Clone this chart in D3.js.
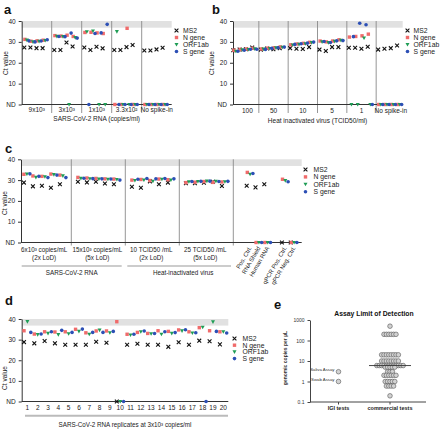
<!DOCTYPE html>
<html><head><meta charset="utf-8">
<script src="https://cdn.jsdelivr.net/npm/d3@7"></script>
<style>body{margin:0;background:#fff}svg{font-family:"Liberation Sans",Arial,sans-serif}</style>
</head><body><svg id="c" width="440" height="429"></svg>
<script>
// ---------------- DATA ----------------
const ND = null; // not detected
const seriesNames = ["MS2", "N gene", "ORF1ab", "S gene"];
const yTicks = [0, 10, 20, 30, 40];

// Panel a: SARS-CoV-2 RNA (copies/ml), 4 replicates per group
const aGroups = ["9x10³", "3x10³", "1x10³", "3.3x10²", "No spike-in"];
const aMS2 = [[27.3,27.3,27.0,27.0],[26.1,26.1,29.7,27.8],[27.3,26.1,27.7,26.9],[26.1,26.1,27.5,28.5],[25.9,25.9,26.4,27.2]];
const aN   = [[31.2,30.3,30.5,30.8],[33.0,32.8,33.2,32.6],[34.5,34.6,34.3,34.0],[ND,ND,36.5,ND],[ND,ND,ND,ND]];
const aORF = [[30.8,30.0,30.2,30.6],[32.6,32.5,ND,32.0],[34.8,35.2,ND,ND],[34.9,ND,ND,ND],[ND,ND,ND,ND]];
const aS   = [[30.5,30.0,30.4,31.0],[32.6,32.5,34.2,31.8],[ND,34.0,34.3,38.4],[ND,ND,ND,ND],[ND,ND,ND,ND]];

// Panel b: heat inactivated virus (TCID50/ml)
const bGroups = ["100", "50", "10", "5", "1", "No spike-in"];
const bMS2 = [[26.0,26.3,26.5,27.3],[26.3,26.8,26.5,27.0],[27.0,26.7,26.6,27.5],[26.3,25.6,27.5,27.5],[27.2,27.2,26.7,27.7],[26.3,26.7,27.0,28.3]];
const bN   = [[26.0,26.4,26.6,26.9],[26.6,27.0,27.2,27.6],[28.6,29.0,29.3,29.8],[30.4,30.0,30.4,31.0],[32.3,32.6,32.9,33.7],[ND,ND,ND,ND]];
const bORF = [[25.5,26.2,26.3,26.6],[26.5,26.8,27.1,27.4],[28.5,28.8,29.1,29.6],[30.0,29.6,30.2,30.7],[ND,ND,31.8,ND],[ND,ND,ND,ND]];
const bS   = [[25.5,26.0,26.5,26.5],[26.4,26.9,27.2,27.5],[28.8,29.1,29.4,29.9],[30.2,29.7,30.5,30.6],[32.5,38.9,38.2,ND],[ND,ND,ND,ND]];

// Panel c: 5 replicates per condition + controls
const cGroups = [["6x10³ copies/mL","(2x LoD)"],["15x10³ copies/mL","(5x LoD)"],["10 TCID50 /mL","(2x LoD)"],["25 TCID50 /mL","(5x LoD)"]];
const cSuperGroups = ["SARS-CoV-2 RNA", "Heat-inactivated virus"];
const cMS2 = [[28.8,27.0,27.3,26.3,28.0],[29.2,28.9,29.2,28.4,28.0],[26.8,26.3,29.4,28.0,28.8],[28.5,28.5,28.7,29.2,27.2]];
const cN   = [[32.8,32.0,31.8,32.9,32.4],[31.3,31.0,30.8,30.6,30.5],[30.0,30.3,29.8,30.5,30.2],[28.8,29.0,29.3,28.9,29.1]];
const cORF = [[32.9,31.3,31.6,32.6,32.0],[30.8,30.6,30.5,30.4,30.3],[29.8,30.0,29.4,30.4,30.0],[29.2,29.3,29.5,29.4,29.2]];
const cS   = [[33.0,31.8,31.2,32.4,31.2],[30.9,30.7,30.6,30.5,30.0],[30.4,30.8,30.6,30.8,30.6],[29.3,29.4,29.5,29.3,29.4]];
const ctrlNames = ["Pos. Ctrl.", "RNA Shield", "Human RNA", "qPCR Pos. Ctrl.", "qPCR Neg. Ctrl."];
const ctrlSlots = [0, 1, 2, 4, 5];
const ctrlMS2 = [27.3, 26.5, 28.0, ND, ND];
const ctrlN   = [33.7, ND, ND, 30.4, ND];
const ctrlORF = [32.8, ND, ND, 29.7, ND];
const ctrlS   = [33.2, ND, ND, 29.2, ND];

// Panel d: 20 replicates at 3x10^3 copies/ml
const dReps = d3.range(1, 21);
const dMS2 = [28.8,28.2,29.3,28.2,27.5,27.5,27.5,29.0,28.5,ND,27.5,28.0,27.5,27.5,26.5,28.7,27.5,29.5,29.2,27.7];
const dN   = [34.3,32.7,33.8,33.7,33.8,35.0,33.3,34.2,34.2,38.7,32.6,33.5,33.0,34.3,34.0,34.7,33.8,35.8,34.3,33.8];
const dORF = [38.7,32.4,33.0,32.4,32.8,34.0,32.6,34.6,33.3,ND,32.2,33.8,32.8,32.6,33.0,34.2,33.2,36.0,38.6,33.8];
const dS   = [33.5,32.7,33.8,34.5,33.5,35.1,33.5,33.5,34.0,ND,32.6,34.2,33.0,33.8,33.4,34.8,33.3,ND,34.0,33.2];

// Panel e: assay limit of detection (genomic copies per µL)
const eCategories = ["IGI tests", "commercial tests"];
const igiLabels = ["Saliva Assay", "Swab Assay"];
const igiValues = [3, 1];
const commercialValues = [500,200,200,200,200,200,200,20,20,20,20,20,20,20,20,
  10,10,10,10,10,10,10,10,6,6,6,6,6,6,6,6,6,6,6,6,5,5,5,5,5,3,3,3,2,2,2,2,2,2,1,1,1,1,1,0.6,0.6,0.6,0.6,0.2];
const eTicks = [0.1, 1, 10, 100, 1000];

// ---------------- DRAWING ----------------
const svg = d3.select("#c");
const colors = ["#111111", "#f06b6b", "#1f9d55", "#2c4fb5"];
const yv = v => (v === null ? 0 : v);

function drawMarker(g, s, x, y) {
  if (s === 0) g.append("path").attr("d", `M${x-1.9},${y-1.9}L${x+1.9},${y+1.9}M${x-1.9},${y+1.9}L${x+1.9},${y-1.9}`)
    .attr("stroke", colors[0]).attr("stroke-width", 1.1).attr("fill", "none");
  else if (s === 1) g.append("rect").attr("x", x-1.7).attr("y", y-1.7).attr("width", 3.4).attr("height", 3.4).attr("fill", colors[1]);
  else if (s === 2) g.append("path").attr("d", `M${x-2},${y-1.6}L${x+2},${y-1.6}L${x},${y+2}Z`).attr("fill", colors[2]);
  else g.append("circle").attr("cx", x).attr("cy", y).attr("r", 1.8).attr("fill", colors[3]);
}

function txt(g, x, y, s, opts = {}) {
  const t = g.append("text").attr("x", x).attr("y", y).text(s)
    .attr("font-size", opts.size || 6.5).attr("fill", opts.fill || "#222")
    .attr("text-anchor", opts.anchor || "middle");
  if (opts.bold) t.attr("font-weight", "bold");
  if (opts.rotate) t.attr("transform", `rotate(${opts.rotate},${x},${y})`);
  return t;
}

function ctFrame(g, y, axisX, endX, seps, sepBottom, titleX, titleY) {
  g.append("rect").attr("x", axisX).attr("y", y(40)).attr("width", endX - axisX)
    .attr("height", y(36.8) - y(40)).attr("fill", "#e1e1e1");
  seps.forEach(sx => g.append("line").attr("x1", sx).attr("x2", sx).attr("y1", y(40)).attr("y2", sepBottom)
    .attr("stroke", "#8a8a8a").attr("stroke-width", 0.9));
  g.append("line").attr("x1", axisX).attr("x2", endX).attr("y1", y(0)).attr("y2", y(0))
    .attr("stroke", "#333").attr("stroke-width", 1);
  const ax = g.append("g").attr("transform", `translate(${axisX},0)`)
    .call(d3.axisLeft(y).tickValues(yTicks).tickFormat(d => d === 0 ? "ND" : d).tickSize(3).tickSizeOuter(0));
  ax.select(".domain").attr("stroke", "#333");
  ax.selectAll(".tick line").attr("stroke", "#333");
  ax.selectAll("text").attr("font-size", 6.5).attr("fill", "#222").attr("font-family", null);
  txt(g, titleX, titleY, "Ct value", {rotate: -90, size: 6.5});
}

function legend(g, mx, tx, y0, dy) {
  seriesNames.forEach((n, i) => {
    drawMarker(g, i, mx, y0 + i * dy);
    txt(g, tx, y0 + i * dy + 2.3, n, {anchor: "start", size: 6.8});
  });
}

function letter(x, y, s) { txt(svg, x, y, s, {bold: true, size: 13, anchor: "start", fill: "#111"}); }

// ---- Panel a ----
{
  const g = svg.append("g");
  const y = d3.scaleLinear().domain([0, 40]).range([104.5, 21]);
  const x = d3.scaleLinear().domain([0, 5]).range([21.7, 171.7]);
  ctFrame(g, y, 21.7, 171.7, [1,2,3,4].map(x), 113, 8, 63);
  const offs = [0, 0.6, 2.6, 4.6];
  [aMS2, aN, aORF, aS].forEach((arr, s) => arr.forEach((grp, gi) => grp.forEach((v, r) =>
    drawMarker(g, s, x(gi) + 2.6 + r * 6.1 + offs[s], y(yv(v))))));
  aGroups.forEach((l, i) => txt(g, (x(i) + x(i+1)) / 2, 112, l));
  txt(g, 96.7, 120.5, "SARS-CoV-2 RNA  (copies/ml)");
  legend(g, 176.5, 183, 30.5, 7);
  letter(4, 14, "a");
}

// ---- Panel b ----
{
  const g = svg.append("g");
  const y = d3.scaleLinear().domain([0, 40]).range([104.5, 21]);
  const x = d3.scaleLinear().domain([0, 6]).range([229.5, 405.5]);
  ctFrame(g, y, 233, 402.7, [1,2,3,4,5].map(x), 113, 214, 63);
  const start = gi => gi === 0 ? 231.3 : x(gi);
  const offs = [0, 0.6, 2.6, 4.6];
  [bMS2, bN, bORF, bS].forEach((arr, s) => arr.forEach((grp, gi) => grp.forEach((v, r) =>
    drawMarker(g, s, start(gi) + 2 + r * 6.3 + offs[s], y(yv(v))))));
  bGroups.forEach((l, i) => txt(g, (Math.max(start(i), 233) + x(i+1)) / 2 + (i === 0 ? 1.5 : 0), 113, l));
  txt(g, 317.5, 122.5, "Heat inactivated virus (TCID50/ml)");
  legend(g, 407.5, 413.5, 30.5, 7);
  letter(212, 14, "b");
}

// ---- Panel c ----
{
  const g = svg.append("g");
  const y = d3.scaleLinear().domain([0, 40]).range([242.5, 159.3]);
  const x = d3.scaleLinear().domain([0, 5]).range([17.3, 287.3]);
  ctFrame(g, y, 21, 301.7, [1,2,3,4].map(x), 245.5, 7, 203);
  const offs = [0, 0, 3, 6];
  [cMS2, cN, cORF, cS].forEach((arr, s) => arr.forEach((grp, gi) => grp.forEach((v, r) =>
    drawMarker(g, s, x(gi) + 6.6 + r * 9 + offs[s], y(yv(v))))));
  const ctrlOffs = [0, 0.6, 3.4, 6.2];
  [ctrlMS2, ctrlN, ctrlORF, ctrlS].forEach((arr, s) => arr.forEach((v, k) =>
    drawMarker(g, s, x(4) + 13.4 + ctrlSlots[k] * 8.8 + ctrlOffs[s], y(yv(v)))));
  cGroups.forEach((l, i) => {
    const cx = (Math.max(x(i), 21) + x(i+1)) / 2 - (i === 0 ? 2 : 1);
    txt(g, cx, 251.5, l[0], {size: 6.3});
    txt(g, cx, 259.5, l[1], {size: 6.3});
  });
  ctrlNames.forEach((l, k) => {
    const tx = x(4) + 13.4 + ctrlSlots[k] * 8.8 + 5.2, ty = 248;
    g.append("text").attr("x", tx).attr("y", ty).attr("text-anchor", "end").attr("font-size", 6)
      .attr("fill", "#222").attr("transform", `rotate(-60,${tx},${ty})`).text(l);
  });
  [[21.7, 121.7], [127.3, 231]].forEach((r, i) => {
    g.append("line").attr("x1", r[0]).attr("x2", r[1]).attr("y1", 266).attr("y2", 266).attr("stroke", "#999").attr("stroke-width", 1);
    txt(g, (r[0] + r[1]) / 2 + (i === 1 ? 4 : 0), 274.5, cSuperGroups[i], {size: 6.3});
  });
  legend(g, 305.5, 313.5, 169.5, 7.4);
  letter(5, 153, "c");
}

// ---- Panel d ----
{
  const g = svg.append("g");
  const y = d3.scaleLinear().domain([0, 40]).range([401.5, 319]);
  const x = d3.scaleLinear().domain([1, 20]).range([27.4, 223.3]);
  ctFrame(g, y, 21.7, 228.3, [], 0, 7, 378);
  const offs = [-3.4, -3.4, 0, 3.4];
  [dMS2, dN, dORF, dS].forEach((arr, s) => arr.forEach((v, i) =>
    drawMarker(g, s, x(dReps[i]) + offs[s], y(yv(v)))));
  dReps.forEach(r => txt(g, x(r), 409.5, String(r)));
  g.append("line").attr("x1", 25).attr("x2", 228).attr("y1", 415.7).attr("y2", 415.7).attr("stroke", "#bbb").attr("stroke-width", 2);
  txt(g, 125, 427, "SARS-CoV-2 RNA replicates at 3x10³ copies/ml", {size: 6.3});
  legend(g, 234.5, 242.5, 338.5, 6.7);
  letter(5, 305, "d");
}

// ---- Panel e ----
{
  const g = svg.append("g");
  const y = d3.scaleLog().domain([0.1, 1000]).range([402, 320]);
  const x = d3.scalePoint().domain(eCategories).range([338.5, 390]);
  const ax = g.append("g").attr("transform", "translate(310,0)")
    .call(d3.axisLeft(y).tickValues(eTicks).tickFormat(d => d >= 1 ? d3.format("d")(d) : "0.1").tickSize(2.5).tickSizeOuter(0));
  ax.select(".domain").attr("stroke", "#444");
  ax.selectAll(".tick line").attr("stroke", "#444");
  ax.selectAll("text").attr("font-size", 5).attr("fill", "#333").attr("font-family", null);
  g.append("line").attr("x1", 310).attr("x2", 426).attr("y1", 402).attr("y2", 402).attr("stroke", "#444");
  eCategories.forEach(c => {
    g.append("line").attr("x1", x(c)).attr("x2", x(c)).attr("y1", 402).attr("y2", 404.5).attr("stroke", "#444");
    txt(g, x(c), 410, c, {size: 5.5, bold: true, fill: "#222"});
  });
  txt(g, 286.5, 358, "genomic copies per µL", {size: 5, bold: true, rotate: -90, fill: "#333"});
  txt(g, 374, 316, "Assay Limit of Detection", {size: 6.8, bold: true, fill: "#111"});
  const circ = (cx, cy) => g.append("circle").attr("cx", cx).attr("cy", cy).attr("r", 2.3)
    .attr("fill", "#d2d2d2").attr("stroke", "#555").attr("stroke-width", 0.6);
  igiValues.forEach((v, i) => {
    circ(x("IGI tests"), y(v));
    txt(g, x("IGI tests") - 4, y(v) - 0.3, igiLabels[i], {size: 4.3, anchor: "end", fill: "#333"});
  });
  const groups = d3.groups(commercialValues, v => v);
  const cx0 = x("commercial tests");
  groups.forEach(([v, arr]) => {
    const n = arr.length;
    arr.forEach((_, i) => circ(cx0 + (i - (n - 1) / 2) * 2.4, y(v)));
  });
  const med = d3.median(commercialValues);
  g.append("line").attr("x1", cx0 - 21).attr("x2", cx0 + 21).attr("y1", y(med)).attr("y2", y(med))
    .attr("stroke", "#333").attr("stroke-width", 0.9);
  letter(274, 309, "e");
}
</script></body></html>
